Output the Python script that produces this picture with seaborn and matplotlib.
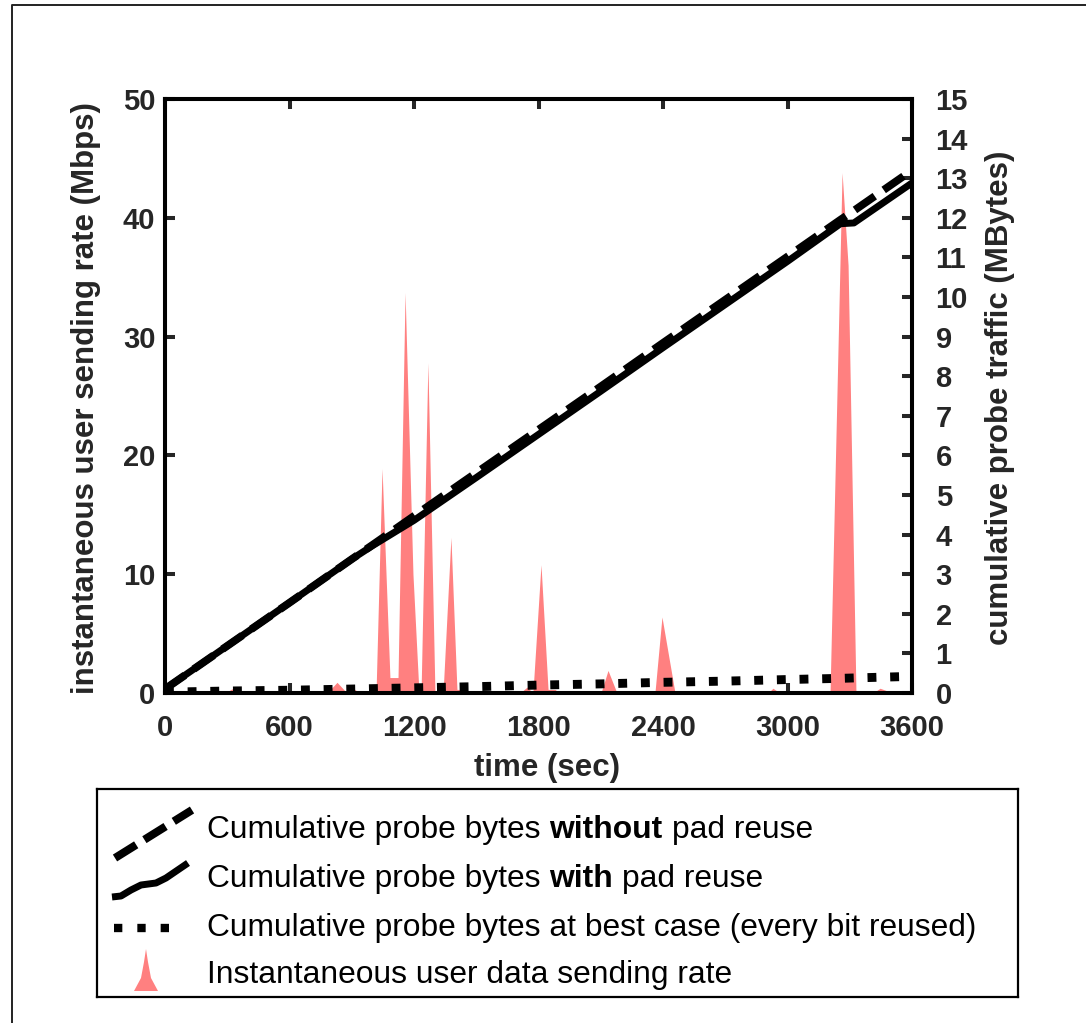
import matplotlib
matplotlib.use("Agg")
import matplotlib.pyplot as plt
from matplotlib.patches import Polygon
from matplotlib.lines import Line2D
import pandas as pd
import seaborn as sns

# --- cumulative probe traffic (MBytes) ---
time_cum = [0, 300, 600, 900, 1000, 1200, 1500, 1800, 2100, 2400, 2700, 3000, 3255, 3320, 3600]
without_reuse = [0.10, 1.19, 2.28, 3.38, 3.74, 4.47, 5.56, 6.65, 7.74, 8.84, 9.93, 11.02, 11.95, 12.18, 13.20]
with_reuse = [0.10, 1.19, 2.28, 3.38, 3.72, 4.36, 5.44, 6.53, 7.62, 8.72, 9.81, 10.90, 11.85, 11.87, 12.88]
best_case = [0.02, 0.05, 0.07, 0.10, 0.11, 0.13, 0.16, 0.20, 0.23, 0.27, 0.30, 0.34, 0.37, 0.38, 0.42]

# --- instantaneous user sending rate (Mbps) ---
rate_time = [0, 25, 50, 289, 323, 361, 781, 829, 877, 901, 940, 1017, 1046, 1084, 1123,
             1157, 1195, 1224, 1234, 1267, 1301, 1340, 1378, 1407, 1455, 1460, 1711, 1745,
             1773, 1812, 1846, 1880, 1900, 2101, 2135, 2178, 2361, 2395, 2458, 2906, 2930,
             2964, 3205, 3263, 3292, 3330, 3412, 3446, 3508, 3600]
rate_mbps = [0, 0.2, 0, 0, 0.35, 0, 0, 0.9, 0, 0.45, 0, 0, 18.9, 1.3, 1.3,
             33.7, 10.0, 0, 0, 27.8, 0, 0, 13.1, 0.3, 0.3, 0, 0, 0.5,
             0, 10.8, 0.3, 0.3, 0, 0, 1.9, 0, 0, 6.4, 0, 0, 0.4,
             0, 0, 43.8, 36.0, 0, 0, 0.4, 0, 0]

x_ticks = [0, 600, 1200, 1800, 2400, 3000, 3600]
left_ticks = [0, 10, 20, 30, 40, 50]
right_ticks = list(range(0, 16))

# legend rows as (text, bold) pieces
legend_rows = [
    [("Cumulative probe bytes", False), ("without", True), ("pad reuse", False)],
    [("Cumulative probe bytes", False), ("with", True), ("pad reuse", False)],
    [("Cumulative probe bytes at best case (every bit reused)", False)],
    [("Instantaneous user data sending rate", False)],
]

sns.set_style("white")
plt.rcParams["font.family"] = ["Liberation Sans", "DejaVu Sans"]

W, H = 1086, 1023
fig = plt.figure(figsize=(W / 100, H / 100), dpi=100)
fig.patch.set_facecolor("white")


def fx(px):
    return px / W


def fy(py):
    return 1 - py / H


ax = fig.add_axes([fx(165), fy(693), fx(912) - fx(165), fy(99) - fy(693)])
ax2 = ax.twinx()

RED = "#FF8080"
ax.fill_between(rate_time, rate_mbps, 0, color=RED, lw=0, zorder=1)

cum = pd.DataFrame({"time": time_cum, "without": without_reuse,
                    "with": with_reuse, "best": best_case})

sns.lineplot(data=cum, x="time", y="without", ax=ax2, color="black", lw=5.6,
             estimator=None, sort=False)
ax2.lines[-1].set_dashes((3.1, 1.4))
sns.lineplot(data=cum, x="time", y="with", ax=ax2, color="black", lw=5.0,
             estimator=None, sort=False)
ax2.lines[-1].set_solid_capstyle("round")
sns.lineplot(data=cum, x="time", y="best", ax=ax2, color="black", lw=6.4,
             estimator=None, sort=False)
ax2.lines[-1].set_dashes((1.0, 1.55))
ax2.lines[-1].set_dash_capstyle("butt")

ax.set_xlim(0, 3600)
ax.set_ylim(0, 50)
ax2.set_ylim(0, 15)
ax.set_xticks(x_ticks)
ax.set_yticks(left_ticks)
ax2.set_yticks(right_ticks)

tick_font = dict(fontsize=21, fontweight="bold")
ax.set_xticklabels([str(v) for v in x_ticks], **tick_font)
ax.set_yticklabels([str(v) for v in left_ticks], **tick_font)
ax2.set_yticklabels([str(v) for v in right_ticks], **tick_font)

ax.tick_params(axis="x", direction="in", length=7.5, width=2.9, top=True, bottom=True, pad=15)
ax.tick_params(axis="y", direction="in", length=7.5, width=2.9, left=True, right=False, pad=7)
ax2.tick_params(axis="y", direction="in", length=7.5, width=2.9, right=True, left=False, pad=17)

for a in (ax, ax2):
    for s in a.spines.values():
        s.set_linewidth(2.9)
        s.set_color("black")
        s.set_visible(True)
    a.set_xlabel("")
    a.set_ylabel("")

lab_font = dict(fontsize=22.5, fontweight="bold")
ax.set_xlabel("time (sec)", **lab_font)
ax.xaxis.set_label_coords((547 - 165) / 747, (693 - 768) / 594)
ax.xaxis.label.set_va("center")
ax.set_ylabel("instantaneous user sending rate (Mbps)", **lab_font)
ax.yaxis.set_label_coords((86 - 165) / 747, (693 - 398) / 594)
ax.yaxis.label.set_va("center")
ax2.set_ylabel("cumulative probe traffic (MBytes)", rotation=90, **lab_font)
ax2.yaxis.set_label_coords((1000 - 165) / 747, (693 - 398) / 594)
ax2.yaxis.label.set_va("center")
ax2.yaxis.label.set_ha("center")

# outer frame (top and left edges run off the canvas)
fig.add_artist(Line2D([fx(12), fx(12), 1.0], [0.0, fy(5), fy(5)],
                      transform=fig.transFigure, lw=1.4, color="#222222"))

# legend panel
lax = fig.add_axes([fx(97), fy(997), fx(1018) - fx(97), fy(789) - fy(997)])
lax.set_xlim(97, 1018)
lax.set_ylim(997, 789)
lax.set_xticks([])
lax.set_yticks([])
for s in lax.spines.values():
    s.set_linewidth(1.6)
    s.set_color("black")
lax.patch.set_alpha(0)

k1, = lax.plot([115, 192], [858, 810], color="black", lw=5.8)
k1.set_dashes((3.1, 1.2))
lax.plot([112, 121, 131, 141, 156, 166, 188], [897, 896, 890, 885, 883, 878, 863],
         color="black", lw=5.0, solid_capstyle="butt")
k3, = lax.plot([114, 173], [928, 928], color="black", lw=6.0)
k3.set_dashes((1.0, 1.8))
k3.set_dash_capstyle("butt")
lax.add_patch(Polygon([(134, 991), (141, 978), (144, 962), (146, 949), (148, 962),
                       (151, 978), (158, 991)], closed=True, color=RED, lw=0))

LEG_FS = 22.9
renderer = fig.canvas.get_renderer()


def text_width(s, weight="normal"):
    t = lax.text(0, 0, s, fontsize=LEG_FS, fontweight=weight)
    w = t.get_window_extent(renderer).width
    t.remove()
    return w


space_w = text_width("a a") - text_width("aa")
for row, yy in zip(legend_rows, [830, 879, 928, 975]):
    x = 207.0
    for i, (piece, bold) in enumerate(row):
        t = lax.text(x, yy, piece, fontsize=LEG_FS, va="center", ha="left",
                     fontweight="bold" if bold else "normal", color="black")
        x += t.get_window_extent(renderer).width + space_w

fig.savefig("out.png", dpi=100)
